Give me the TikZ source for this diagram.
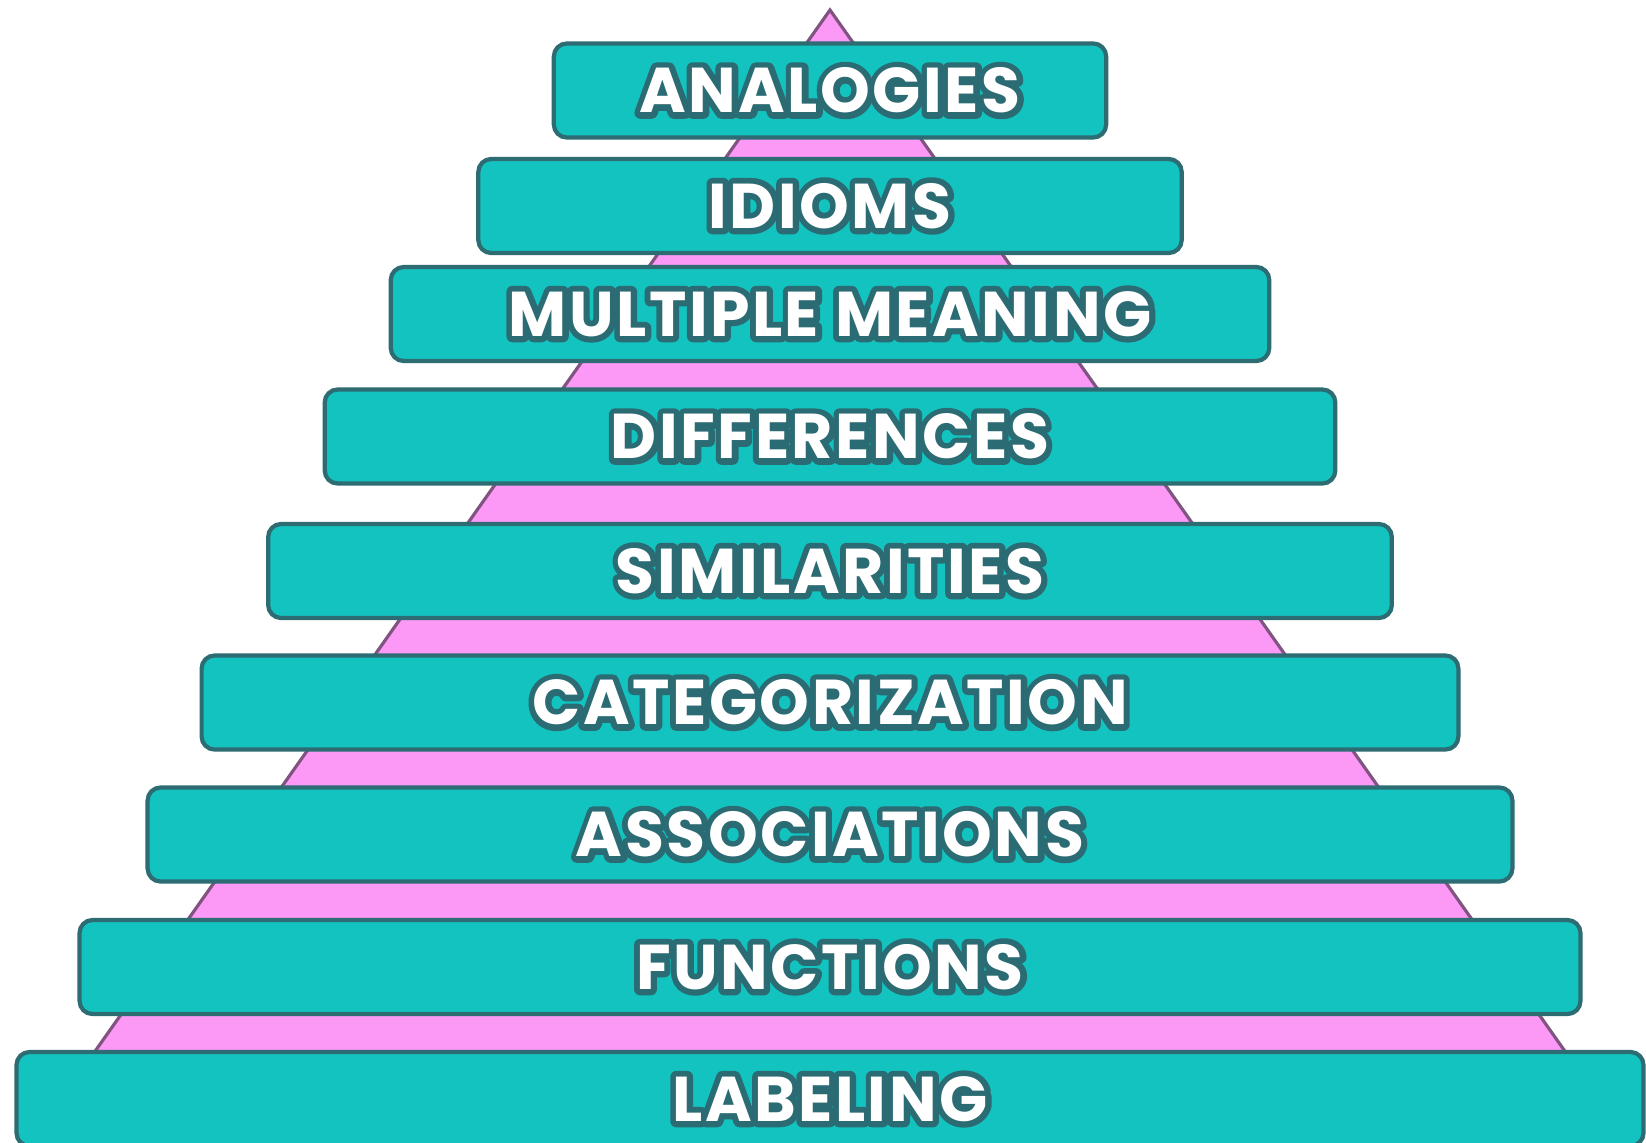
\documentclass[tikz,border=0pt]{standalone}
\usepackage{fontspec}
\setmainfont{Poppins}[LetterSpace=4]
\usetikzlibrary{positioning}

\definecolor{barfill}{RGB}{19,195,192}
\definecolor{barline}{RGB}{44,108,114}
\definecolor{pyrfill}{RGB}{252,152,246}
\definecolor{pyrline}{RGB}{128,84,128}

% white letters with a dark teal rim: a stroked copy behind, the filled text on top
\newcommand{\barlabel}[1]{\rlap{\special{pdf:literal direct 1 Tr 3.4 w 1 j 0.17 0.42 0.45 RG}#1\special{pdf:literal direct 0 Tr}}#1}

\begin{document}
\begin{tikzpicture}[x=0.01cm,y=-0.01cm,
  bar/.style = {draw=barline, fill=barfill, line width=1.2pt, rounded corners=0.13cm,
    minimum height=0.94cm, inner sep=0pt, text=white,
    font=\bfseries\fontsize{18}{18}\selectfont},
  pyramid/.style = {draw=pyrline, fill=pyrfill, line width=0.9pt}]
\useasboundingbox[fill=white] (0,0) rectangle (1646,1142);
% the pink pyramid behind the bars
\coordinate (apex) at (830,10);
\coordinate (baseL) at (31,1142);
\coordinate (baseR) at (1629,1142);
\draw[pyramid] (apex) -- (baseL) -- (baseR) -- cycle;
% the bars, top to bottom
\node[bar, minimum width=5.52cm]  (analogies) at (830,90.5) {\barlabel{ANALOGIES}};
\node[bar, minimum width=7.03cm]  (idioms)    at (830,206)  {\barlabel{IDIOMS}};
\node[bar, minimum width=8.78cm]  (multiple)  at (830,314)  {\barlabel{MULTIPLE MEANING}};
\node[bar, minimum width=10.10cm] (diff)      at (830,436.5) {\barlabel{DIFFERENCES}};
\node[bar, minimum width=11.23cm] (simil)     at (830,571)  {\barlabel{SIMILARITIES}};
\node[bar, minimum width=12.56cm] (categ)     at (830,702.5) {\barlabel{CATEGORIZATION}};
\node[bar, minimum width=13.64cm] (assoc)     at (830,834.5) {\barlabel{ASSOCIATIONS}};
\node[bar, minimum width=15.00cm] (func)      at (830,967)  {\barlabel{FUNCTIONS}};
\node[bar, minimum width=16.26cm] (label)     at (830,1099) {\barlabel{LABELING}};
\end{tikzpicture}
\end{document}
